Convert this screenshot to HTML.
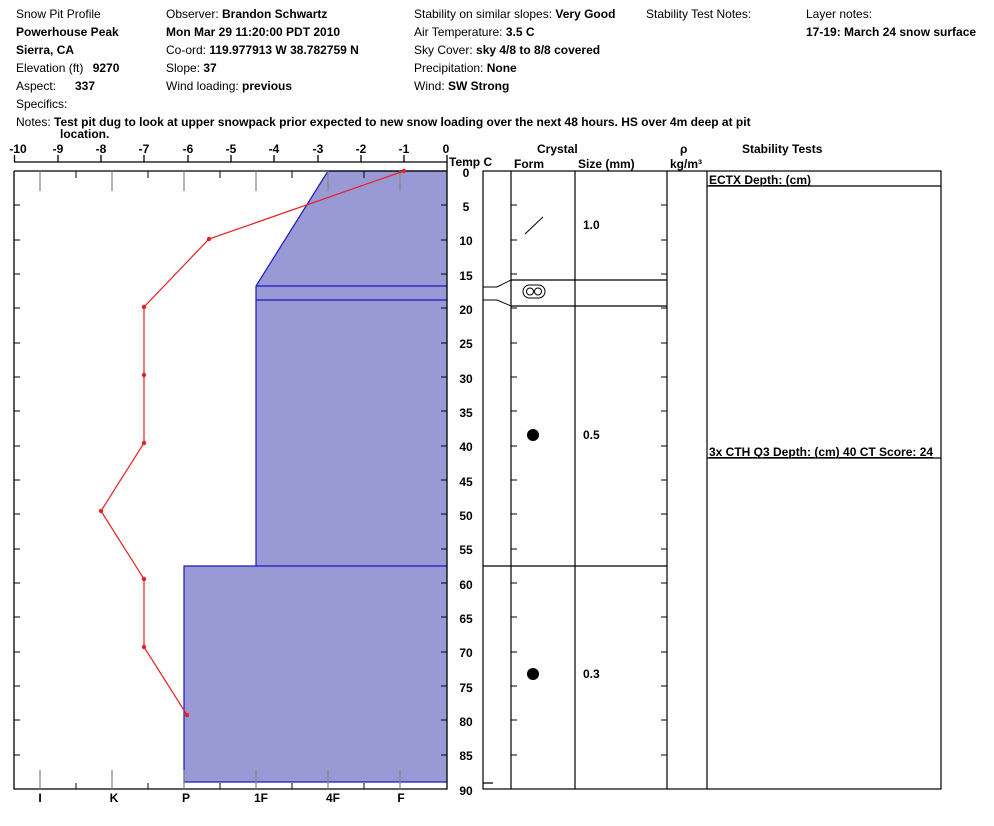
<!DOCTYPE html>
<html><head><meta charset="utf-8"><style>
body{margin:0;background:#fff}
svg{display:block;font-family:"Liberation Sans",Arial,sans-serif;font-size:12px}
.b{font-weight:bold}
</style></head><body>
<svg width="994" height="826" viewBox="0 0 994 826" xmlns="http://www.w3.org/2000/svg">
<g fill="#000">
<text x="16" y="18">Snow Pit Profile</text>
<text x="16" y="36" class="b">Powerhouse Peak</text>
<text x="16" y="54" class="b">Sierra, CA</text>
<text x="16" y="72">Elevation (ft)  <tspan class="b" dx="6">9270</tspan></text>
<text x="16" y="90">Aspect:</text><text x="75" y="90" class="b">337</text>
<text x="16" y="108">Specifics:</text>
<text x="16" y="126">Notes:  <tspan class="b">Test pit dug to look at upper snowpack prior expected to new snow loading over the next 48 hours. HS over 4m deep at pit</tspan></text>
<text x="60" y="138" class="b">location.</text>
<text x="166" y="18">Observer:  <tspan class="b">Brandon Schwartz</tspan></text>
<text x="166" y="36" class="b">Mon Mar 29 11:20:00 PDT 2010</text>
<text x="166" y="54">Co-ord:  <tspan class="b">119.977913 W 38.782759 N</tspan></text>
<text x="166" y="72">Slope:  <tspan class="b">37</tspan></text>
<text x="166" y="90">Wind loading:  <tspan class="b">previous</tspan></text>
<text x="414" y="18">Stability on similar slopes:  <tspan class="b">Very Good</tspan></text>
<text x="414" y="36">Air Temperature:  <tspan class="b">3.5 C</tspan></text>
<text x="414" y="54">Sky Cover:  <tspan class="b">sky 4/8 to 8/8 covered</tspan></text>
<text x="414" y="72">Precipitation:  <tspan class="b">None</tspan></text>
<text x="414" y="90">Wind:  <tspan class="b">SW Strong</tspan></text>
<text x="646" y="18">Stability Test Notes:</text>
<text x="806" y="18">Layer notes:</text>
<text x="806" y="36" class="b">17-19: March 24 snow surface</text>
</g>
<!-- temp axis -->
<g class="b" text-anchor="middle">
<text x="18" y="153">-10</text><text x="58" y="153">-9</text><text x="101" y="153">-8</text><text x="144" y="153">-7</text><text x="188" y="153">-6</text><text x="231" y="153">-5</text><text x="274" y="153">-4</text><text x="318" y="153">-3</text><text x="361" y="153">-2</text><text x="404" y="153">-1</text><text x="446" y="153">0</text>
</g>
<text x="449" y="166" class="b">Temp C</text>
<g stroke="#000" stroke-width="1.3" fill="none">
<line x1="14" y1="162" x2="447" y2="162"/>
<path d="M14.5 155v7M58 155v7M101 155v7M144 155v7M188 155v7M231 155v7M274 155v7M318 155v7M361 155v7M404 155v7M447 155v16"/>
</g>
<!-- snow layers -->
<path d="M328 171H447V782H184V566H256V286Z" fill="#9999d6"/>
<g stroke="#1a1ac0" stroke-width="1.2" fill="none">
<path d="M447 171H328L256 286V566H184V782H447"/>
<line x1="256" y1="286" x2="447" y2="286"/><line x1="256" y1="300" x2="447" y2="300"/><line x1="256" y1="566" x2="447" y2="566"/>
</g>
<!-- frame -->
<g stroke="#000" stroke-width="1.3" fill="none">
<path d="M14 171V789H447V171H14"/>
</g>
<g stroke="#888" stroke-width="1.3">
<path d="M40 171v20M112 171v20M184 171v20M256 171v20M328 171v20M400 171v20M40 770v19M112 770v19M184 770v19M256 770v19M328 770v19M400 770v19"/>
</g>
<g stroke="#000" stroke-width="1">
<path d="M76 171v7M148 171v7M220 171v7M292 171v7M364 171v7M76 783v6M148 783v6M220 783v6M292 783v6M364 783v6"/>
<path d="M14 205h6M14 240h6M14 274h6M14 308h6M14 343h6M14 377h6M14 411h6M14 446h6M14 480h6M14 514h6M14 549h6M14 583h6M14 617h6M14 652h6M14 686h6M14 720h6M14 755h6"/>
<path d="M441 205h6M441 240h6M441 274h6M441 308h6M441 343h6M441 377h6M441 411h6M441 446h6M441 480h6M441 514h6M441 549h6M441 583h6M441 617h6M441 652h6M441 686h6M441 720h6M441 755h6"/>
</g>
<g class="b" text-anchor="middle">
<text x="40" y="802">I</text><text x="114" y="802">K</text><text x="186" y="802">P</text><text x="261" y="802">1F</text><text x="333" y="802">4F</text><text x="401" y="802">F</text>
</g>
<!-- depth labels -->
<g class="b" text-anchor="middle">
<text x="466" y="177">0</text><text x="466" y="211">5</text><text x="466" y="245">10</text><text x="466" y="280">15</text><text x="466" y="314">20</text><text x="466" y="348">25</text><text x="466" y="383">30</text><text x="466" y="417">35</text><text x="466" y="451">40</text><text x="466" y="486">45</text><text x="466" y="520">50</text><text x="466" y="554">55</text><text x="466" y="589">60</text><text x="466" y="623">65</text><text x="466" y="657">70</text><text x="466" y="692">75</text><text x="466" y="726">80</text><text x="466" y="760">85</text><text x="466" y="795">90</text>
</g>
<!-- temperature profile -->
<polyline points="404,171 209,239 144,307 144,375 144,443 101,511 144,579 144,647 187,715" fill="none" stroke="#e82020" stroke-width="1.2"/>
<g fill="#e82020">
<circle cx="404" cy="171" r="2.2"/><circle cx="209" cy="239" r="2.2"/><circle cx="144" cy="307" r="2.2"/><circle cx="144" cy="375" r="2.2"/><circle cx="144" cy="443" r="2.2"/><circle cx="101" cy="511" r="2.2"/><circle cx="144" cy="579" r="2.2"/><circle cx="144" cy="647" r="2.2"/><circle cx="187" cy="715" r="2.2"/>
</g>
<!-- right table -->
<g class="b">
<text x="537" y="153">Crystal</text>
<text x="514" y="168">Form</text>
<text x="578" y="168">Size (mm)</text>
<text x="680" y="153">ρ</text>
<text x="670" y="168">kg/m³</text>
<text x="742" y="153">Stability Tests</text>
</g>
<g stroke="#000" stroke-width="1.2" fill="none">
<rect x="483" y="171" width="458" height="618"/>
<path d="M511 171V789M575 171V789M667 171V789M707 171V789"/>
<path d="M511 280H667M511 306H667M483 566H667M483 783H493"/>
<path d="M483 287H497L511 280M483 300H497L511 306" stroke-width="1"/>
<path d="M707 186H941M707 458H941"/>
<path d="M511 205h6M511 240h6M511 274h6M511 308h6M511 343h6M511 377h6M511 411h6M511 446h6M511 480h6M511 514h6M511 549h6M511 583h6M511 617h6M511 652h6M511 686h6M511 720h6M511 755h6" stroke-width="1"/>
<path d="M661 205h6M661 240h6M661 274h6M661 308h6M661 343h6M661 377h6M661 411h6M661 446h6M661 480h6M661 514h6M661 549h6M661 583h6M661 617h6M661 652h6M661 686h6M661 720h6M661 755h6" stroke-width="1"/>
<line x1="525" y1="234" x2="543" y2="217" stroke-width="1"/>
<rect x="523" y="285" width="22" height="13" rx="6.5" stroke-width="1"/>
<circle cx="530" cy="291.5" r="3.5" stroke-width="1"/><circle cx="538" cy="291.5" r="3.5" stroke-width="1"/>
</g>
<circle cx="533" cy="435" r="6" fill="#000"/>
<circle cx="533" cy="674" r="6" fill="#000"/>
<g class="b">
<text x="583" y="229">1.0</text>
<text x="583" y="439">0.5</text>
<text x="583" y="678">0.3</text>
<text x="709" y="184" text-decoration="underline">ECTX   Depth: (cm)</text>
<text x="709" y="456" text-decoration="underline">3x CTH Q3 Depth: (cm) 40 CT Score: 24</text>
</g>
</svg>
</body></html>
